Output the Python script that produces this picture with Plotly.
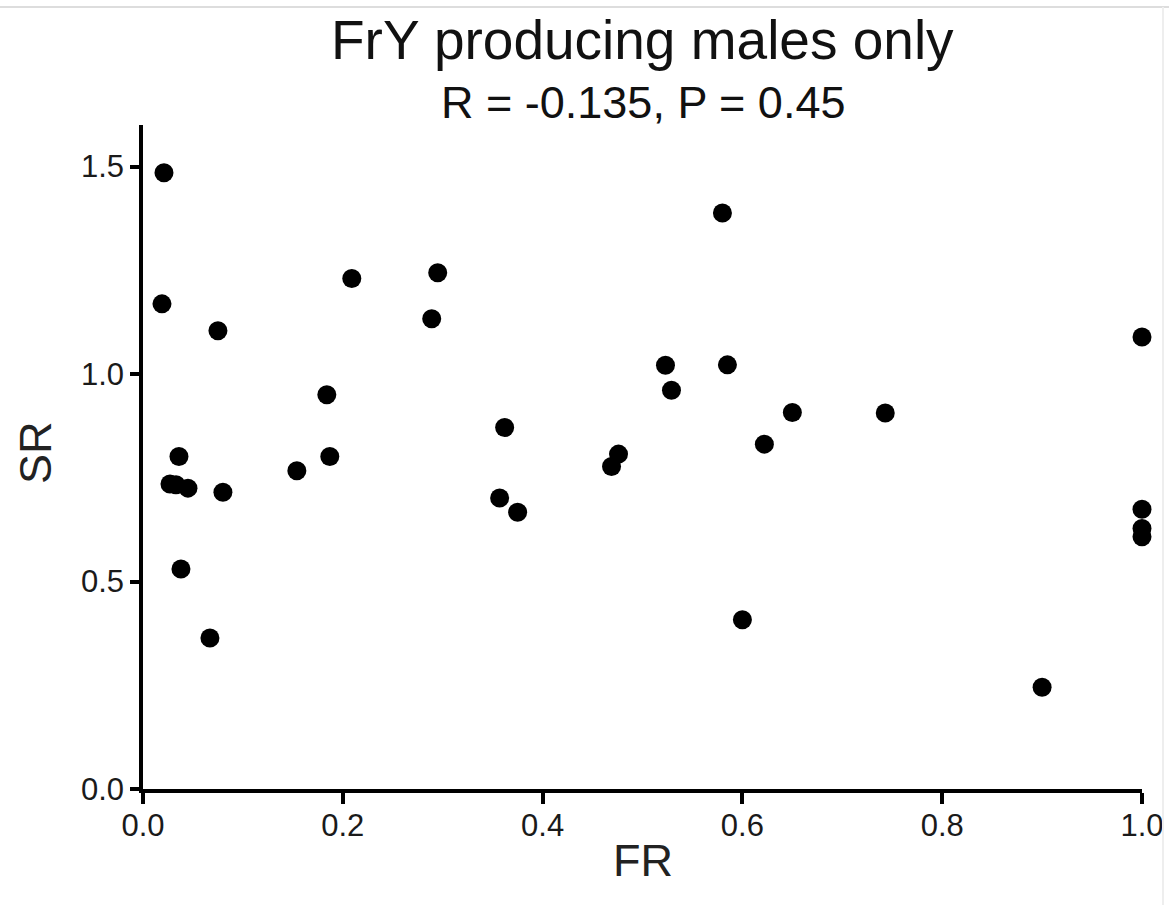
import plotly.graph_objects as go

fr = [0.021, 0.019, 0.075, 0.209, 0.184, 0.036, 0.187, 0.154, 0.027, 0.033,
      0.045, 0.080, 0.038, 0.067, 0.295, 0.289, 0.523, 0.529, 0.362, 0.476,
      0.469, 0.357, 0.375, 0.580, 0.585, 0.650, 0.743, 0.622, 0.600, 1.0,
      1.0, 1.0, 1.0, 0.900]
sr = [1.485, 1.169, 1.104, 1.230, 0.950, 0.801, 0.801, 0.767, 0.735, 0.733,
      0.725, 0.715, 0.530, 0.364, 1.244, 1.133, 1.021, 0.961, 0.871, 0.807,
      0.777, 0.701, 0.667, 1.388, 1.022, 0.907, 0.906, 0.831, 0.408, 1.089,
      0.674, 0.628, 0.608, 0.245]

x_ticks = [0.0, 0.2, 0.4, 0.6, 0.8, 1.0]
x_tick_labels = ["0.0", "0.2", "0.4", "0.6", "0.8", "1.0"]
y_ticks = [0.0, 0.5, 1.0, 1.5]
y_tick_labels = ["0.0", "0.5", "1.0", "1.5"]

title = "FrY producing males only"
subtitle = "R = -0.135, P = 0.45"
x_title = "FR"
y_title = "SR"

FONT = "Liberation Sans, Arial, sans-serif"
W, H = 1169, 905
L, R, T, B = 143, 27, 125, 116
PW, PH = W - L - R, H - T - B


def px(xp):
    return (xp - L) / PW


def py(yp):
    return (H - B - yp) / PH


fig = go.Figure()
fig.add_trace(go.Scatter(
    x=fr, y=sr, mode="markers",
    marker=dict(color="black", size=19, line=dict(width=0)),
    cliponaxis=False, showlegend=False,
))

fig.update_layout(
    width=W, height=H, autosize=False,
    margin=dict(l=L, r=R, t=T, b=B, autoexpand=False),
    paper_bgcolor="white", plot_bgcolor="white",
    font=dict(family=FONT, color="#111"),
    xaxis=dict(
        range=[0, 1.0], tickvals=x_ticks, ticktext=x_tick_labels,
        showgrid=False, zeroline=False, showline=True, linecolor="black",
        linewidth=3.5, ticks="outside", ticklen=11, tickwidth=3.5, tickcolor="black",
        tickfont=dict(size=31, family=FONT, color="#1a1a1a"),
        ticklabelstandoff=-5, automargin=False,
    ),
    yaxis=dict(
        range=[0, 1.6], tickvals=y_ticks, ticktext=y_tick_labels,
        showgrid=False, zeroline=False, showline=True, linecolor="black",
        linewidth=3.5, ticks="outside", ticklen=9, tickwidth=3.5, tickcolor="black",
        tickfont=dict(size=31, family=FONT, color="#1a1a1a"),
        automargin=False,
    ),
    annotations=[
        dict(text=title, xref="paper", yref="paper", x=0.5, y=py(40),
             xanchor="center", yanchor="middle", showarrow=False,
             font=dict(size=55, family=FONT, color="#111")),
        dict(text=subtitle, xref="paper", yref="paper", x=0.5, y=py(102),
             xanchor="center", yanchor="middle", showarrow=False,
             font=dict(size=45, family=FONT, color="#111")),
        dict(text=x_title, xref="paper", yref="paper", x=0.5, y=py(860),
             xanchor="center", yanchor="middle", showarrow=False,
             font=dict(size=45, family=FONT, color="#222")),
        dict(text=y_title, xref="paper", yref="paper", x=px(35), y=py(453),
             xanchor="center", yanchor="middle", showarrow=False, textangle=-90,
             font=dict(size=45, family=FONT, color="#222")),
    ],
    shapes=[
        dict(type="line", xref="paper", yref="paper",
             x0=px(0), x1=px(W), y0=py(7), y1=py(7),
             line=dict(color="#dddddd", width=2)),
        dict(type="line", xref="paper", yref="paper",
             x0=px(1163), x1=px(1163), y0=py(7), y1=py(H),
             line=dict(color="#eeeeee", width=2)),
    ],
)

fig.write_html(
    "out.html",
    config={"displayModeBar": False, "responsive": False},
    post_script="document.body.style.margin='0px';document.body.style.overflow='hidden';",
)
